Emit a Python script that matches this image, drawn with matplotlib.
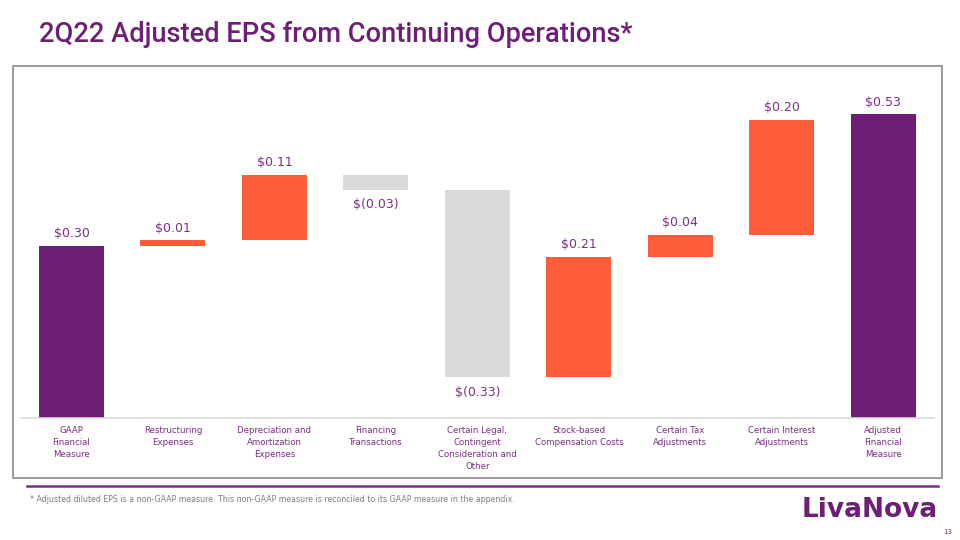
import matplotlib
matplotlib.use('Agg')
import matplotlib.pyplot as plt
import matplotlib.patches as patches
import numpy as np

# waterfall data (steps, labels as printed)
categories = ['GAAP\nFinancial\nMeasure', 'Restructuring\nExpenses',
              'Depreciation and\nAmortization\nExpenses', 'Financing\nTransactions',
              'Certain Legal,\nContingent\nConsideration and\nOther',
              'Stock-based\nCompensation Costs', 'Certain Tax\nAdjustments',
              'Certain Interest\nAdjustments', 'Adjusted\nFinancial\nMeasure']
steps = [0.300, 0.010, 0.114, -0.026, -0.327, 0.210, 0.039, 0.200]
total = 0.53
value_labels = ['$0.30', '$0.01', '$0.11', '$(0.03)', '$(0.33)', '$0.21', '$0.04', '$0.20', '$0.53']

PURPLE = '#6c1f75'
ORANGE = '#ff5c39'
GRAY = '#d9d9d9'
TXT = '#7b2e85'

fig = plt.figure(figsize=(9.6, 5.4), dpi=100)
W, H = 960, 540

def px(x0, y0, x1, y1):
    return [x0 / W, 1 - y1 / H, (x1 - x0) / W, (y1 - y0) / H]

# frame around the chart
fig.patches.append(patches.Rectangle((13 / W, 1 - 478 / H), 929 / W, 412 / H,
                                     transform=fig.transFigure, fill=False,
                                     edgecolor='#8a8a8a', lw=1.2))

ax = fig.add_axes(px(20.7, 74, 934, 418))
ax.set_xlim(-0.5, 8.5)
ax.set_ylim(0, 0.6)

bottoms, heights, colors = [], [], []
cum = 0
for i, s in enumerate(steps):
    if i == 0:
        bottoms.append(0)
        heights.append(s)
        colors.append(PURPLE)
    else:
        bottoms.append(min(cum, cum + s))
        heights.append(abs(s))
        colors.append(ORANGE if s > 0 else GRAY)
    cum += s
bottoms.append(0)
heights.append(total)
colors.append(PURPLE)

x = np.arange(len(categories))
ax.bar(x, heights, bottom=bottoms, width=0.64, color=colors)

for i in range(len(x)):
    neg = i < len(steps) and steps[i] < 0
    if neg:
        ax.annotate(value_labels[i], (x[i], bottoms[i]), xytext=(0, -6),
                    textcoords='offset points', ha='center', va='top',
                    fontsize=9, color=TXT)
    else:
        ax.annotate(value_labels[i], (x[i], bottoms[i] + heights[i]), xytext=(0, 4),
                    textcoords='offset points', ha='center', va='bottom',
                    fontsize=9, color=TXT)

ax.set_xticks(x)
ax.set_xticklabels(categories, fontsize=6.2, color=TXT, linespacing=1.4)
ax.tick_params(axis='x', length=0, pad=6)
ax.set_yticks([])
for sp in ['top', 'left', 'right']:
    ax.spines[sp].set_visible(False)
ax.spines['bottom'].set_color(GRAY)
ax.spines['bottom'].set_linewidth(1.2)

fig.text(39 / W, 1 - 35 / H, '2Q22 Adjusted EPS from Continuing Operations*',
         fontsize=19.6, fontweight='medium', color=PURPLE, family='Roboto',
         va='center', ha='left')

# footer
fig.add_artist(plt.Line2D([27 / W, 938 / W], [1 - 486 / H, 1 - 486 / H],
                          color='#7b2e85', lw=1.8))
fig.text(30 / W, 1 - 499 / H,
         '* Adjusted diluted EPS is a non-GAAP measure. This non-GAAP measure is reconciled '
         'to its GAAP measure in the appendix.',
         fontsize=5.7, color='#7f7f7f', va='center', ha='left')
fig.text(938 / W, 1 - 510 / H, 'LivaNova', fontsize=19, fontweight='bold',
         color=PURPLE, va='center', ha='right')
fig.text(952 / W, 1 - 532 / H, '13', fontsize=5, color='#6c3d70', va='center', ha='right')

fig.savefig('out.png', dpi=100)
